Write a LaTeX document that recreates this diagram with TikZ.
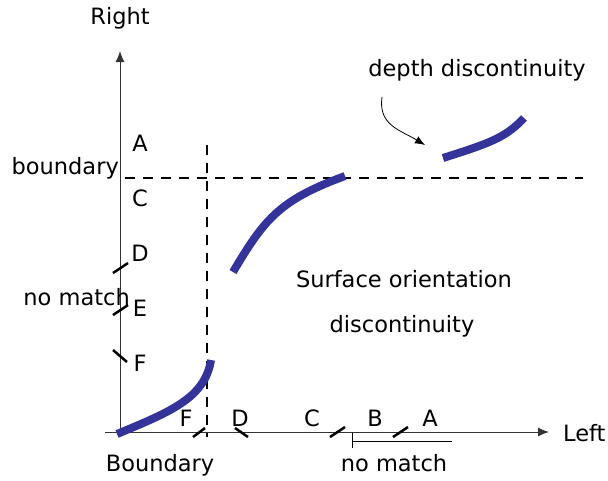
\documentclass[tikz,border=0pt]{standalone}
\usepackage{fontspec}
\setmainfont{DejaVu Sans}
\usepackage{tikz,xcolor}
\usetikzlibrary{arrows.meta}
\definecolor{curveblue}{HTML}{333399}

\begin{document}
\begin{tikzpicture}[x=1pt, y=-1pt,
  lbl/.style={font=\fontsize{22.5}{27}\selectfont, inner sep=0pt},
  tick/.style={black, line width=2.5pt},
  dashline/.style={black, line width=2pt, dash pattern=on 10pt off 8pt},
  edge/.style={curveblue, line width=8pt},
  axis/.style={black!80, line width=1pt, -{Latex[length=11pt, width=9pt]}}]

\useasboundingbox (0,0) rectangle (608,480);

% Axes
\coordinate (origin) at (120,432);
\coordinate (ytop) at (120,51);
\coordinate (xleft) at (105,432);
\coordinate (xright) at (549,432);
\draw[axis] (origin) -- (ytop);
\draw[axis] (xleft) -- (xright);
\node[lbl] (right) at (120,18) {Right};
\node[lbl, right] (left) at (563,433) {Left};

% Boundaries
\draw[dashline] (125,178) -- (583,178);
\draw[dashline] (207,145) -- (207,437);
\node[lbl, anchor=east] (hbound) at (119,168) {boundary};
\node[lbl] (vbound) at (160,465) {Boundary};

% Labels along the right axis
\foreach \y/\name in {143/A, 198/C, 253/D, 308/E, 363/F} {
  \node[lbl] (r\name) at (140,\y) {\name};
}
\draw[tick] (113,273) -- (128,263);
\draw[tick] (113,315) -- (128,305);
\draw[tick] (113,350) -- (127,362);
\node[lbl, anchor=east] (rnomatch) at (130,297) {no match};

% Labels along the left axis
\foreach \x/\name in {186/F, 240/D, 312/C, 375/B, 430/A} {
  \node[lbl] (l\name) at (\x,418) {\name};
}
\draw[tick] (193,437) -- (205,428);
\draw[tick] (235,428) -- (248,437);
\draw[tick] (330,437) -- (345,427);
\draw[tick] (393,437) -- (408,427);
\draw[black, line width=1pt] (352,441) -- (452,441);
\draw[black, line width=1pt] (352,433) -- (352,448);
\node[lbl] (lnomatch) at (394,463) {no match};

% Matched edges
\draw[edge] (117,434) .. controls (170,412) and (205,398) .. (211,360);
\draw[edge] (233,272) .. controls (265,218) and (280,200) .. (345,176);
\draw[edge] (443,158) .. controls (490,143) and (505,138) .. (524,118);

% Annotations
\node[lbl] (depth) at (477,70) {depth discontinuity};
\coordinate (depthfrom) at (382,97);
\coordinate (depthto) at (425,145);
\draw[black, line width=0.8pt, -{Latex[length=10pt, width=8pt]}] (depthfrom) .. controls (378,125) and (400,130) .. (depthto);
\node[lbl] (surface) at (404,279) {Surface orientation};
\node[lbl] (surface2) at (402,326) {discontinuity};

\end{tikzpicture}
\end{document}
